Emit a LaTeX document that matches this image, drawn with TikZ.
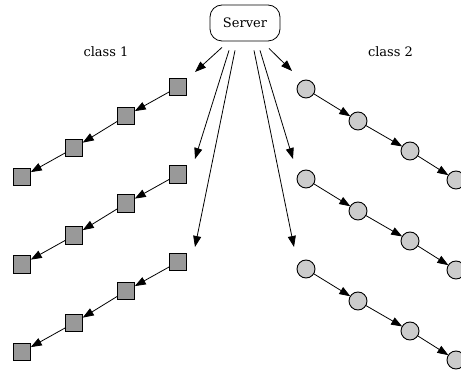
\documentclass[tikz,border=0pt]{standalone}
\usepackage{fontspec}
\setmainfont{DejaVu Serif}
\usetikzlibrary{arrows.meta,calc}
\definecolor{sqfill}{HTML}{999999}
\definecolor{cfill}{HTML}{CCCCCC}
\tikzset{
  sq/.style={draw, line width=0.9pt, fill=sqfill, minimum size=17.5pt, inner sep=0pt, outer sep=0pt},
  ci/.style={draw, line width=0.9pt, fill=cfill, circle, minimum size=18pt, inner sep=0pt, outer sep=0pt},
  arr/.style={line width=0.8pt, -{Triangle[length=11pt,width=8pt]}},
  lbl/.style={font=\fontsize{13}{15}\selectfont, inner sep=0pt},
  srv/.style={draw, line width=0.8pt, rounded corners=12pt, minimum width=70pt, minimum height=36pt, font=\fontsize{13}{15}\selectfont, inner sep=0pt}
}
\begin{document}
\begin{tikzpicture}[x=1pt,y=-1pt]
\useasboundingbox (0,0) rectangle (461,371);
\clip (0,0) rectangle (461,371);
\node[srv] (server) at (245,23) {Server};
\node[lbl] (l1) at (106,52) {class 1};
\node[lbl] (l2) at (390.5,52) {class 2};
% squares
\foreach \k/\dy in {1/0,2/87.5,3/175}{
  \node[sq] (s\k1) at (178,87+\dy) {};
  \node[sq] (s\k2) at (126,116+\dy) {};
  \node[sq] (s\k3) at (74,148+\dy) {};
  \node[sq] (s\k4) at (22,177+\dy) {};
  \draw[arr] (s\k1) -- (s\k2);
  \draw[arr] (s\k2) -- (s\k3);
  \draw[arr] (s\k3) -- (s\k4);
}
% circles
\foreach \k/\dy in {1/0,2/90,3/180}{
  \node[ci] (c\k1) at (306,89+\dy) {};
  \node[ci] (c\k2) at (358,121+\dy) {};
  \node[ci] (c\k3) at (410,151+\dy) {};
  \node[ci] (c\k4) at (456,180+\dy) {};
  \draw[arr] (c\k1) -- (c\k2);
  \draw[arr] (c\k2) -- (c\k3);
  \draw[arr] (c\k3) -- (c\k4);
}
% server edges
\draw[arr] ($(server.south)+(-23,6)$) -- ($(s11)+(17,-15)$);
\draw[arr] ($(server.south)+(-16,9)$) -- ($(s21)+(17,-15.5)$);
\draw[arr] ($(server.south)+(-10,9)$) -- ($(s31)+(17,-15)$);
\draw[arr] ($(server.south)+(24,7)$) -- ($(c11)+(-14,-18)$);
\draw[arr] ($(server.south)+(15,9)$) -- ($(c21)+(-13,-20)$);
\draw[arr] ($(server.south)+(9,9)$) -- ($(c31)+(-12,-22)$);
\end{tikzpicture}
\end{document}
